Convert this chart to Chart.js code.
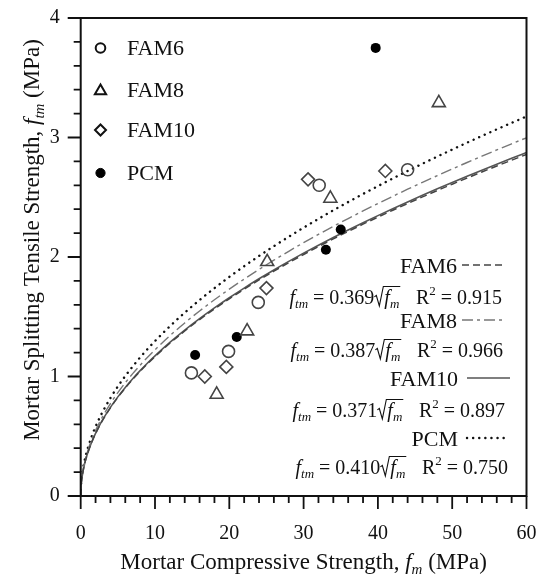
<!DOCTYPE html>
<html><head><meta charset="utf-8">
<script src="https://cdn.jsdelivr.net/npm/chart.js@4.4.1/dist/chart.umd.min.js"></script>
<style>html,body{margin:0;padding:0;background:#fff;}canvas{display:block;}</style>
</head><body>
<canvas id="c" width="540" height="581"></canvas>
<script>
// ---------- data ----------
const seriesNames = ['FAM6', 'FAM8', 'FAM10', 'PCM'];
const fam6X  = [14.9, 19.9, 23.9, 32.1, 44.0];
const fam6Y  = [1.03, 1.21, 1.62, 2.60, 2.73];
const fam8X  = [18.3, 22.4, 25.1, 33.6, 48.2];
const fam8Y  = [0.85, 1.38, 1.96, 2.49, 3.29];
const fam10X = [16.7, 19.6, 25.0, 30.6, 41.0];
const fam10Y = [1.00, 1.08, 1.74, 2.65, 2.72];
const pcmX   = [15.4, 21.0, 33.0, 35.0, 39.7];
const pcmY   = [1.18, 1.33, 2.06, 2.23, 3.75];
const fitCoef = [0.369, 0.387, 0.371, 0.410];
const fitR2   = ['0.915', '0.966', '0.897', '0.750'];
const curveX = [0, 0.02, 0.1, 0.25, 0.5, 0.75, 1, 1.5, 2, 2.5, 3, 4, 5, 6, 7, 8, 9, 10, 12, 14, 16, 18, 20, 22, 24, 26, 28, 30, 32, 34, 36, 38, 40, 42, 44, 46, 48, 50, 52, 54, 56, 58, 60];
const xTickLabels = [0, 10, 20, 30, 40, 50, 60];
const yTickLabels = [0, 1, 2, 3, 4];

const FONT = '"Liberation Serif", "Times New Roman", serif';
const zip = (xs, ys) => xs.map((x, i) => ({x, y: ys[i]}));
const fit = c => curveX.map(x => ({x, y: c * Math.sqrt(x)}));

// line styles for the fits
const fitStyles = [
  {color: '#444', width: 1.5, dash: [7, 4], cap: 'butt'},
  {color: '#777', width: 1.4, dash: [11, 4, 3, 4], cap: 'butt'},
  {color: '#555', width: 1.6, dash: [], cap: 'butt'},
  {color: '#111', width: 2.4, dash: [0.1, 6], cap: 'round'}
];

// ---------- rich text helper ----------
function setFont(ctx, size, it) { ctx.font = (it ? 'italic ' : '') + size + 'px ' + FONT; }
function runWidth(ctx, runs, b) {
  let w = 0;
  for (const r of runs) {
    if (r.rad) { w += 0.5 * b + runWidth(ctx, r.rad, b) + 0.08 * b; continue; }
    const s = (r.sub || r.sup) ? b * 0.65 : b;
    setFont(ctx, s, r.it);
    w += ctx.measureText(r.t).width;
  }
  return w;
}
function drawRuns(ctx, runs, x, by, b) {
  for (const r of runs) {
    if (r.rad) {
      const iw = runWidth(ctx, r.rad, b);
      ctx.save();
      ctx.lineWidth = 1.1; ctx.strokeStyle = '#111'; ctx.setLineDash([]);
      ctx.beginPath();
      ctx.moveTo(x, by - 0.33 * b);
      ctx.lineTo(x + 0.1 * b, by - 0.4 * b);
      ctx.lineTo(x + 0.25 * b, by + 0.12 * b);
      ctx.lineTo(x + 0.45 * b, by - 0.85 * b);
      ctx.lineTo(x + 0.55 * b + iw, by - 0.85 * b);
      ctx.stroke();
      ctx.restore();
      drawRuns(ctx, r.rad, x + 0.5 * b, by, b);
      x += 0.5 * b + iw + 0.08 * b;
      continue;
    }
    const s = (r.sub || r.sup) ? b * 0.65 : b;
    setFont(ctx, s, r.it);
    const dy = r.sub ? 0.22 * b : (r.sup ? -0.42 * b : 0);
    ctx.fillText(r.t, x, by + dy);
    x += ctx.measureText(r.t).width;
  }
  return x;
}

function marker(ctx, style, x, y, r, fill, stroke, lw) {
  ctx.save();
  ctx.setLineDash([]);
  ctx.lineWidth = lw; ctx.strokeStyle = stroke; ctx.fillStyle = fill;
  ctx.beginPath();
  if (style === 'circle') ctx.arc(x, y, r, 0, Math.PI * 2);
  else if (style === 'triangle') {
    ctx.moveTo(x, y - r); ctx.lineTo(x + r * 0.866, y + r * 0.5); ctx.lineTo(x - r * 0.866, y + r * 0.5); ctx.closePath();
  } else if (style === 'rectRot') {
    ctx.moveTo(x, y - r); ctx.lineTo(x + r, y); ctx.lineTo(x, y + r); ctx.lineTo(x - r, y); ctx.closePath();
  }
  if (fill !== 'none') ctx.fill();
  if (lw > 0) ctx.stroke();
  ctx.restore();
}

const annot = {
  id: 'annot',
  afterDraw(chart) {
    const ctx = chart.ctx, a = chart.chartArea, xs = chart.scales.x, ys = chart.scales.y;
    ctx.save();
    ctx.strokeStyle = '#111'; ctx.fillStyle = '#111';
    // tick marks
    ctx.lineWidth = 1.8;
    ctx.beginPath();
    for (let i = 0; i <= 30; i++) {
      const p = xs.getPixelForValue(i * 2), L = (i % 5 === 0) ? 13 : 7;
      ctx.moveTo(p, a.bottom); ctx.lineTo(p, a.bottom + L);
    }
    for (let i = 0; i <= 20; i++) {
      const p = ys.getPixelForValue(i * 0.2), L = (i % 5 === 0) ? 13 : 7;
      ctx.moveTo(a.left, p); ctx.lineTo(a.left - L, p);
    }
    ctx.stroke();
    // frame
    ctx.lineWidth = 2;
    ctx.strokeRect(a.left, a.top, a.right - a.left, a.bottom - a.top);

    // legend (markers)
    const lgY = [48, 90, 130, 173];
    const lgStyle = [['circle', 4.8, 'none', '#111', 2], ['triangle', 6.5, 'none', '#111', 2], ['rectRot', 5.5, 'none', '#111', 2], ['circle', 4.6, '#000', '#000', 1]];
    ctx.textBaseline = 'middle'; ctx.textAlign = 'left';
    for (let i = 0; i < 4; i++) {
      const s = lgStyle[i];
      marker(ctx, s[0], 100.5, lgY[i] + (i === 1 ? 1 : 0), s[1], s[2], s[3], s[4]);
      setFont(ctx, 22, false); ctx.fillStyle = '#111';
      ctx.fillText(seriesNames[i], 127, lgY[i] + 1);
    }

    // equation block
    const nameY = [265, 320, 378, 438];
    const nameRight = [457, 457, 458, 458];
    const smpl = [[462, 505], [462, 505], [467, 510], [467, 507]];
    const eqY = [297, 350, 410, 467];
    const eqRight = [502, 503, 505, 508];
    for (let i = 0; i < 4; i++) {
      ctx.textAlign = 'right'; ctx.textBaseline = 'alphabetic';
      setFont(ctx, 22, false); ctx.fillStyle = '#111';
      ctx.fillText(seriesNames[i], nameRight[i], nameY[i] + 7.5);
      const st = fitStyles[i];
      ctx.save();
      ctx.strokeStyle = st.color; ctx.lineWidth = st.width; ctx.setLineDash(st.dash); ctx.lineCap = st.cap;
      ctx.beginPath(); ctx.moveTo(smpl[i][0], nameY[i]); ctx.lineTo(smpl[i][1], nameY[i]); ctx.stroke();
      ctx.restore();
      const runs = [
        {t: 'f', it: true}, {t: 'tm', it: true, sub: true}, {t: ' = ' + fitCoef[i].toFixed(3)},
        {rad: [{t: 'f', it: true}, {t: 'm', it: true, sub: true}]},
        {t: '   R'}, {t: '2', sup: true}, {t: ' = ' + fitR2[i]}
      ];
      ctx.textAlign = 'left';
      const w = runWidth(ctx, runs, 20);
      ctx.fillStyle = '#111';
      drawRuns(ctx, runs, eqRight[i] - w, eqY[i] + 6.5, 20);
    }

    // axis titles
    ctx.textAlign = 'left'; ctx.textBaseline = 'alphabetic'; ctx.fillStyle = '#111';
    const xt = [{t: 'Mortar Compressive Strength, '}, {t: 'f', it: true}, {t: 'm', it: true, sub: true}, {t: ' (MPa)'}];
    const xw = runWidth(ctx, xt, 23);
    drawRuns(ctx, xt, (a.left + a.right) / 2 - xw / 2, 569, 23);
    const yt = [{t: 'Mortar Splitting Tensile Strength, '}, {t: 'f', it: true}, {t: 'tm', it: true, sub: true}, {t: ' (MPa)'}];
    const yw = runWidth(ctx, yt, 23);
    ctx.save();
    ctx.translate(39, 240);
    ctx.rotate(-Math.PI / 2);
    drawRuns(ctx, yt, -yw / 2, 0, 23);
    ctx.restore();
    ctx.restore();
  }
};

const scatterSets = [
  {label: 'FAM6', data: zip(fam6X, fam6Y), pointStyle: 'circle', pointRadius: 6, pointBorderWidth: 1.6, pointBorderColor: '#444', pointBackgroundColor: 'rgba(0,0,0,0)'},
  {label: 'FAM8', data: zip(fam8X, fam8Y), pointStyle: 'triangle', pointRadius: 7.5, pointBorderWidth: 1.6, pointBorderColor: '#444', pointBackgroundColor: 'rgba(0,0,0,0)'},
  {label: 'FAM10', data: zip(fam10X, fam10Y), pointStyle: 'rectRot', pointRadius: 6.5, pointBorderWidth: 1.6, pointBorderColor: '#444', pointBackgroundColor: 'rgba(0,0,0,0)'},
  {label: 'PCM', data: zip(pcmX, pcmY), pointStyle: 'circle', pointRadius: 5, pointBorderWidth: 0, pointBorderColor: '#000', pointBackgroundColor: '#000'}
].map(d => Object.assign(d, {showLine: false, pointHoverRadius: d.pointRadius}));

const lineSets = fitCoef.map((c, i) => ({
  label: seriesNames[i] + ' fit', data: fit(c), showLine: true, pointRadius: 0, fill: false,
  borderColor: fitStyles[i].color, borderWidth: fitStyles[i].width, borderDash: fitStyles[i].dash,
  borderCapStyle: fitStyles[i].cap, tension: 0.3, cubicInterpolationMode: 'monotone'
}));

new Chart(document.getElementById('c'), {
  type: 'scatter',
  data: {datasets: [...scatterSets, ...lineSets]},
  options: {
    responsive: false, animation: false, devicePixelRatio: 1,
    layout: {padding: {left: 0, right: 13.5, top: 18, bottom: 0}},
    plugins: {legend: {display: false}, tooltip: {enabled: false}},
    scales: {
      x: {
        type: 'linear', min: 0, max: 60,
        afterBuildTicks: s => { s.ticks = xTickLabels.map(v => ({value: v})); },
        afterFit: s => { s.height = 85; s.paddingLeft = 0; s.paddingRight = 0; },
        grid: {display: false, drawTicks: false}, border: {display: false},
        ticks: {autoSkip: false, maxRotation: 0, padding: 26, color: '#111', font: {family: FONT, size: 20}}
      },
      y: {
        type: 'linear', min: 0, max: 4,
        afterBuildTicks: s => { s.ticks = yTickLabels.map(v => ({value: v})); },
        afterFit: s => { s.width = 80.7; s.paddingTop = 0; s.paddingBottom = 0; },
        grid: {display: false, drawTicks: false}, border: {display: false},
        ticks: {padding: 21, color: '#111', font: {family: FONT, size: 20}}
      }
    }
  },
  plugins: [annot]
});
</script>
</body></html>
